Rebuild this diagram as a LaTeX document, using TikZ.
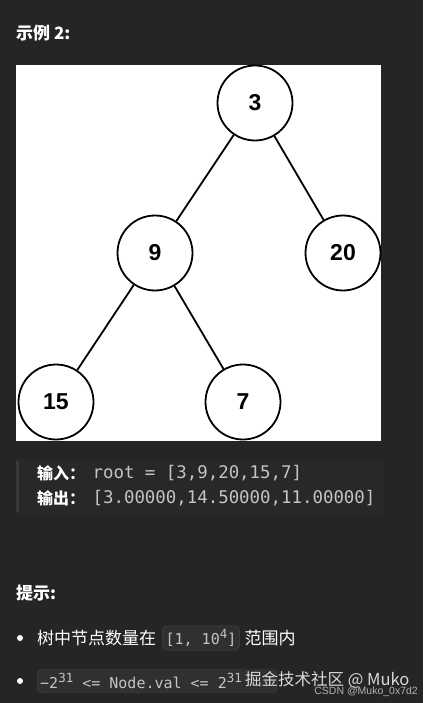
\documentclass[tikz,border=0pt]{standalone}
\usepackage{fontspec}
\setmainfont{Liberation Sans}
\setmonofont{DejaVu Sans Mono}
\newfontfamily\cjk{Noto Sans CJK SC}
\usetikzlibrary{positioning}
\definecolor{pagebg}{HTML}{252525}
\definecolor{codebg}{HTML}{282828}
\definecolor{codefg}{HTML}{C4C4C4}
\definecolor{chipbg}{HTML}{303030}
\definecolor{chipline}{HTML}{464646}
\newcommand{\pw}[1]{\raisebox{0.42em}{\fontsize{12.5}{12.5}\selectfont #1}}

\begin{document}
\begin{tikzpicture}[x=1pt,y=-1pt,
  tnode/.style={draw=black,circle,line width=1.8pt,fill=white,minimum size=75pt,inner sep=0pt,
    font=\fontsize{23}{23}\selectfont\bfseries},
  tedge/.style={line width=1.8pt,black},
  head/.style={anchor=west,text=white,inner sep=0pt,font=\cjk\fontsize{17}{17}\selectfont\bfseries},
  label/.style={anchor=west,text=white,inner sep=0pt,font=\cjk\fontsize{16}{16}\selectfont\bfseries},
  code/.style={anchor=west,text=codefg,inner sep=0pt,font=\ttfamily\fontsize{17.4}{17.4}\selectfont},
  plain/.style={anchor=west,text=white,inner sep=0pt,font=\cjk\fontsize{17}{17}\selectfont},
  chip/.style={anchor=west,draw=chipline,fill=chipbg,rounded corners=4pt,text=codefg,
    inner xsep=3pt,minimum height=23pt,font=\ttfamily\fontsize{15}{15}\selectfont},
  dot/.style={circle,fill=white,inner sep=0pt,minimum size=6pt}]
  \useasboundingbox[fill=pagebg] (0,0) rectangle (423,703);
  \node[head] (title) at (16,33) {示例 2:};
  % tree picture
  \fill[white] (16,65) rectangle (381,441);
  \node[tnode] (n3) at (255,103) {3};
  \node[tnode] (n9) at (155,253) {9};
  \node[tnode] (n20) at (343,253) {20};
  \node[tnode] (n15) at (56,402) {15};
  \node[tnode] (n7) at (243,402) {7};
  \draw[tedge] (n3) -- (n9);
  \draw[tedge] (n3) -- (n20);
  \draw[tedge] (n9) -- (n15);
  \draw[tedge] (n9) -- (n7);
  % example block
  \fill[codebg] (16,459) rectangle (384,514);
  \fill[gray!45!black] (16,461) rectangle (18.5,512);
  \node[label] (in) at (37,473) {输入：};
  \node[code,right=7pt of in] (inval) {root = [3,9,20,15,7]};
  \node[label] (out) at (37,498) {输出：};
  \node[code,right=7pt of out] (outval) {[3.00000,14.50000,11.00000]};
  % hints
  \node[head] (hint) at (16,593) {提示:};
  \node[dot] (b1) at (20,638) {};
  \node[plain] (t1) at (37,638) {树中节点数量在};
  \node[chip,right=6pt of t1] (c1) {[1, 10\pw{4}]};
  \node[plain,right=5pt of c1] (t1b) {范围内};
  \node[dot] (b2) at (20,681) {};
  \node[chip] (c2) at (37,681) {\makebox[234pt][l]{−2\pw{31} <= Node.val <= 2\pw{31}}};
  \node[plain,text=white!85!black,font=\cjk\fontsize{16.5}{16.5}\selectfont] (mark) at (245,680) {掘金技术社区 @ Muko};
  \node[anchor=east,inner sep=0pt,text=white!70!black,font=\fontsize{10.5}{10.5}\selectfont] (csdn) at (418,692) {CSDN @Muko\_0x7d2};
\end{tikzpicture}
\end{document}
